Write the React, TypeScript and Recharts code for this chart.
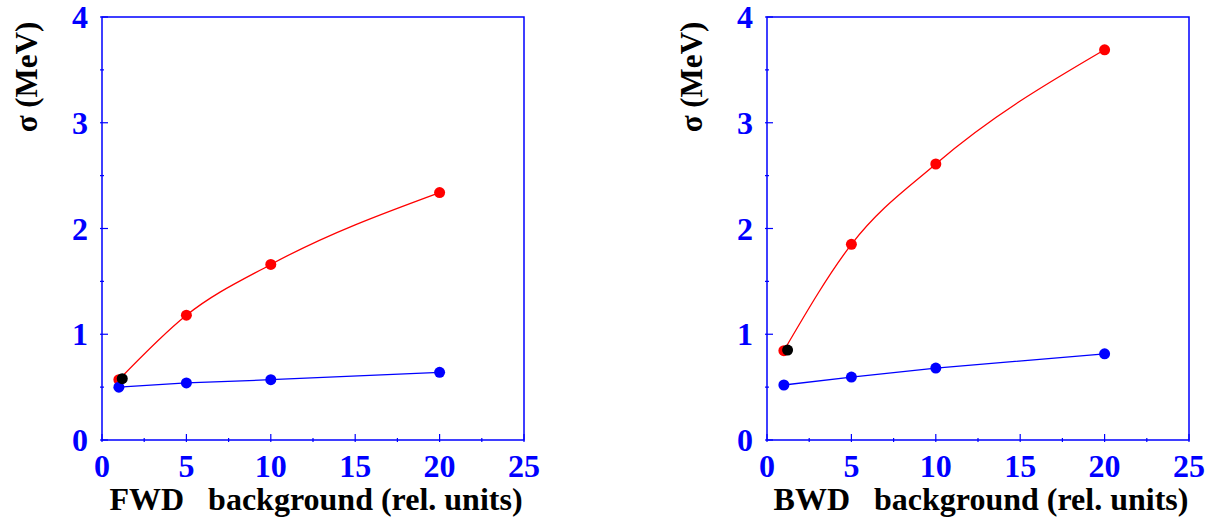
import {
  ComposedChart,
  Line,
  ReferenceArea,
  Scatter,
  XAxis,
  YAxis,
} from "recharts";

const xTicks = [0, 2.5, 5, 7.5, 10, 12.5, 15, 17.5, 20, 22.5, 25];
const yTicks = [0, 0.5, 1, 1.5, 2, 2.5, 3, 3.5, 4];
const bgLevels = [1, 5, 10, 20];

const fwdRed = [0.57, 1.18, 1.66, 2.34];
const fwdBlue = [0.5, 0.54, 0.57, 0.64];
const fwdBlack = { x: 1.2, y: 0.58 };

const bwdRed = [0.845, 1.85, 2.61, 3.69];
const bwdBlue = [0.52, 0.595, 0.68, 0.815];
const bwdBlack = { x: 1.22, y: 0.85 };

const BLUE = "#0000ff";
const RED = "#ff0000";
const FONT = "Liberation Serif";

const toPoints = (vals: number[]) => bgLevels.map((x, i) => ({ x, y: vals[i] }));

const tickText = { fontFamily: FONT, fontWeight: "bold", fontSize: 32 } as const;
const xTitleText = { fontFamily: FONT, fontWeight: "bold", fontSize: 32, whiteSpace: "pre" } as const;
const yTitleText = { fontFamily: FONT, fontWeight: "bold", fontSize: 31 } as const;

function XTick({ x, y, payload }: any) {
  const v = payload.value as number;
  const major = v % 5 === 0;
  return (
    <g>
      <line x1={x} x2={x} y1={y} y2={y - (major ? 8 : 4)} stroke={BLUE} strokeWidth={1.2} />
      {major && (
        <text x={x} y={y + 35} textAnchor="middle" fill={BLUE} style={tickText}>
          {v}
        </text>
      )}
    </g>
  );
}

function YTick({ x, y, payload }: any) {
  const v = payload.value as number;
  const major = Number.isInteger(v);
  return (
    <g>
      <line x1={x} x2={x + (major ? 8 : 4)} y1={y} y2={y} stroke={BLUE} strokeWidth={1.2} />
      {major && (
        <text x={x - 12} y={y + 11} textAnchor="end" fill={BLUE} style={tickText}>
          {v}
        </text>
      )}
    </g>
  );
}

interface PanelProps {
  left: number;
  title: string;
  red: number[];
  blue: number[];
  black: { x: number; y: number };
}

function Panel({ left, title, red, blue, black }: PanelProps) {
  return (
    <div style={{ position: "absolute", left, top: 0 }}>
      <ComposedChart width={546} height={518} margin={{ top: 17, right: 22, bottom: 0, left: 0 }}>
        <XAxis
          dataKey="x"
          type="number"
          domain={[0, 25]}
          ticks={xTicks}
          interval={0}
          height={78}
          axisLine={false}
          tickLine={false}
          tickSize={0}
          tick={<XTick />}
          label={({ viewBox }: any) => (
            <text x={viewBox.x + viewBox.width / 2 + 3} y={510} textAnchor="middle" fill="#000" style={xTitleText}>
              {title + "   background (rel. units)"}
            </text>
          )}
        />
        <YAxis
          dataKey="y"
          type="number"
          domain={[0, 4]}
          ticks={yTicks}
          interval={0}
          width={102}
          axisLine={false}
          tickLine={false}
          tickSize={0}
          tick={<YTick />}
          label={() => (
            <text transform="translate(37, 77) rotate(-90)" textAnchor="middle" fill="#000" style={yTitleText}>
              σ (MeV)
            </text>
          )}
        />
        <ReferenceArea x1={0} x2={25} y1={0} y2={4} fill="none" stroke={BLUE} strokeWidth={1.5} />
        <Line
          data={toPoints(red)}
          dataKey="y"
          type="monotone"
          stroke={RED}
          strokeWidth={1.3}
          dot={{ r: 5.5, fill: RED, stroke: RED, strokeWidth: 0 }}
          isAnimationActive={false}
        />
        <Line
          data={toPoints(blue)}
          dataKey="y"
          type="linear"
          stroke={BLUE}
          strokeWidth={1.3}
          dot={{ r: 5.5, fill: BLUE, stroke: BLUE, strokeWidth: 0 }}
          isAnimationActive={false}
        />
        <Scatter
          data={[black]}
          dataKey="y"
          fill="#000"
          shape={(p: any) => <circle cx={p.cx} cy={p.cy} r={5.5} fill="#000" />}
          isAnimationActive={false}
        />
      </ComposedChart>
    </div>
  );
}

export default function App() {
  return (
    <div style={{ position: "absolute", left: 0, top: 0, width: 1211, height: 518, background: "#fff" }}>
      <Panel left={0} title="FWD" red={fwdRed} blue={fwdBlue} black={fwdBlack} />
      <Panel left={665} title="BWD" red={bwdRed} blue={bwdBlue} black={bwdBlack} />
    </div>
  );
}
